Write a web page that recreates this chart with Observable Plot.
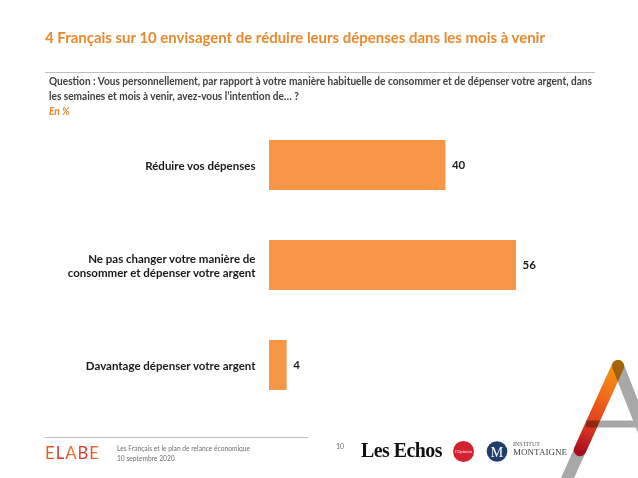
<!DOCTYPE html>
<html>
<head>
<meta charset="utf-8">
<script src="https://cdn.jsdelivr.net/npm/d3@7"></script>
<script src="https://cdn.jsdelivr.net/npm/@observablehq/plot@0.6"></script>
<style>
  html, body { margin: 0; padding: 0; background: #fff; }
  #page { position: relative; width: 638px; height: 478px; overflow: hidden; font-family: Lato, "Open Sans", sans-serif; }
  .t { position: absolute; white-space: nowrap; display: inline-block; transform-origin: 0 50%; }
  .hl { position: absolute; height: 1px; background: #BFBFBF; }
  #chart { position: absolute; left: 0; top: 0; }
</style>
</head>
<body>
<div id="page">
  <div id="chart"></div>
  <span class="t" id="title" data-w="500" style="left:45px; top:28px; font-size:15px; line-height:18px; font-weight:700; color:#E8892E;">4 Français sur 10 envisagent de réduire leurs dépenses dans les mois à venir</span>
  <div class="hl" style="left:45px; top:72px; width:550px;"></div>
  <span class="t" id="q1" data-w="543" style="left:49px; top:75px; font-size:10.5px; line-height:13px; font-weight:700; color:#404040;">Question : Vous personnellement, par rapport à votre manière habituelle de consommer et de dépenser votre argent, dans</span>
  <span class="t" id="q2" data-like="q1" style="left:49px; top:90px; font-size:10.5px; line-height:13px; font-weight:700; color:#404040;">les semaines et mois à venir, avez-vous l’intention de… ?</span>
  <span class="t" id="enp" data-like="q1" style="left:49px; top:105px; font-size:10.5px; line-height:13px; font-weight:700; font-style:italic; color:#E8892E;">En %</span>

  <div class="hl" style="left:45px; top:437px; width:263px;"></div>
  <span class="t" id="elabe" data-w="55" style="left:45px; top:444px; font-size:16.5px; line-height:18px; font-weight:400; letter-spacing:1px; background:linear-gradient(90deg,#EC6A1E,#D9262A 30%,#EE7A22 50%,#D9262A 72%,#F08A24); -webkit-background-clip:text; background-clip:text; color:transparent;">ELABE</span>
  <span class="t" id="f1" data-w="133" style="left:117px; top:444px; font-size:7px; line-height:9px; color:#6E6E6E;">Les Français et le plan de relance économique</span>
  <span class="t" id="f2" data-like="f1" style="left:117px; top:454px; font-size:7px; line-height:9px; color:#6E6E6E;">10 septembre 2020</span>
  <span class="t" style="left:336px; top:442px; font-size:7px; line-height:9px; color:#6E6E6E;">10</span>
  <span class="t" id="echos" data-w="81" style="left:361px; top:439px; font-size:20px; line-height:22px; font-weight:700; letter-spacing:-0.5px; font-family:'Liberation Serif','DejaVu Serif',serif; color:#111;">Les Echos</span>
  <span class="t" style="left:513px; top:441px; font-size:6px; line-height:7px; font-family:'Liberation Serif',serif; color:#555;">INSTITUT</span>
  <span class="t" id="mont" data-w="54" style="left:513px; top:447px; font-size:9px; line-height:10px; font-family:'Liberation Serif',serif; color:#444;">MONTAIGNE</span>
  <svg id="logos" width="638" height="478" style="position:absolute;left:0;top:0;pointer-events:none;">
    <defs>
      <linearGradient id="ag" x1="580" y1="452" x2="618" y2="366" gradientUnits="userSpaceOnUse">
        <stop offset="0" stop-color="#A80F20"/>
        <stop offset="0.35" stop-color="#E2401E"/>
        <stop offset="0.65" stop-color="#F06A1A"/>
        <stop offset="1" stop-color="#F59A10"/>
      </linearGradient>
    </defs>
    <circle cx="463.5" cy="451.5" r="10.5" fill="#D3212F"/>
    <text x="463.5" y="453" text-anchor="middle" font-size="4.5" font-style="italic" font-family="Liberation Serif, serif" fill="#fff">l'Opinion</text>
    <circle cx="497" cy="451.5" r="10.3" fill="#1E3E6C"/>
    <text x="497" y="456.5" text-anchor="middle" font-size="14" font-family="Liberation Serif, serif" fill="#fff">M</text>
    <line x1="618" y1="366" x2="563" y2="488" stroke="#A8A8A8" stroke-width="12" stroke-linecap="round"/>
    <line x1="580" y1="450" x2="618" y2="366" stroke="url(#ag)" stroke-width="12.5" stroke-linecap="round"/>
    <g stroke="#A8A8A8" style="mix-blend-mode:multiply">
      <line x1="618" y1="366" x2="652" y2="452" stroke-width="12" stroke-linecap="round"/>
      <line x1="586" y1="424" x2="650" y2="424" stroke-width="7"/>
    </g>
  </svg>
</div>
<script>
const categories = [
  "Réduire vos dépenses",
  "Ne pas changer votre manière de\nconsommer et dépenser votre argent",
  "Davantage dépenser votre argent"
];
const values = [40, 56, 4];

const data = categories.map((c, i) => ({cat: c, value: values[i]}));

const chart = Plot.plot({
  width: 638,
  height: 478,
  marginLeft: 269,
  marginRight: 122,
  marginTop: 88,
  marginBottom: 36,
  style: {background: "transparent", fontFamily: "Lato, 'Open Sans', sans-serif"},
  x: {domain: [0, 56], axis: null},
  y: {domain: categories, padding: 0.505, axis: null},
  marks: [
    Plot.barX(data, {x: "value", y: "cat", fill: "#F79646"}),
    Plot.text(data, {x: "value", y: "cat", text: d => String(d.value), textAnchor: "start", dx: 6, fontSize: 11.5, fontWeight: "bold", fill: "#1A1A1A"}),
    Plot.text(data, {x: 0, y: "cat", text: "cat", textAnchor: "end", dx: -14, lineHeight: 1.22, fontSize: 11.5, fontWeight: "bold", fill: "#1A1A1A"})
  ]
});
document.getElementById("chart").appendChild(chart);

// fit header/footer text widths
const scales = {};
document.querySelectorAll(".t[data-w]").forEach(el => {
  const w = el.getBoundingClientRect().width;
  const s = +el.dataset.w / w;
  scales[el.id] = s;
  el.style.transform = `scaleX(${s})`;
});
document.querySelectorAll(".t[data-like]").forEach(el => {
  el.style.transform = `scaleX(${scales[el.dataset.like]})`;
});
</script>
</body>
</html>
